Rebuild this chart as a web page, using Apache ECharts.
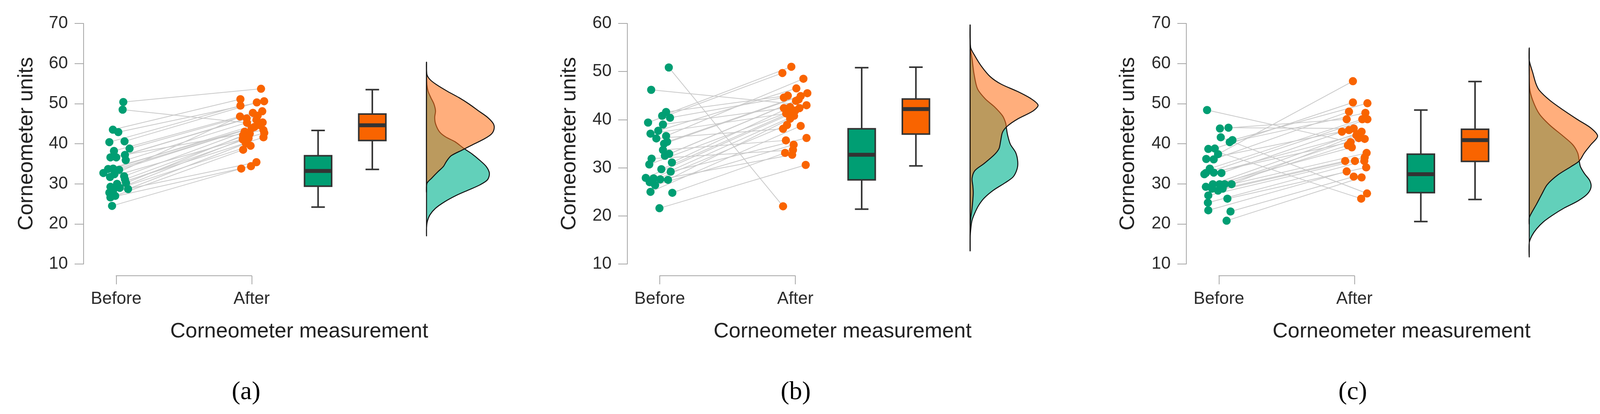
<!DOCTYPE html>
<html>
<head>
<meta charset="utf-8">
<script src="https://cdn.jsdelivr.net/npm/echarts@6/dist/echarts.min.js"></script>
<style>
html,body{margin:0;padding:0;background:#fff;}
#chart{width:4116px;height:1060px;}
</style>
</head>
<body>
<div id="chart"></div>
<script>
// ---------- DATA ----------
const groups = ['Before', 'After'];
const panelLabels = ['(a)', '(b)', '(c)'];
const yTitle = 'Corneometer units';
const xTitle = 'Corneometer measurement';
const yMaxes = [70, 60, 70];

// Panel (a) – paired values (index k = same subject) and horizontal jitter
const aBeforeVal = [50.4,48.5,43.5,42.9,40.6,40.4,38.8,38.2,37.2,36.6,36.6,35.9,33.8,33.7,33.5,32.7,32.4,31.9,31.7,31.1,30.2,30.0,29.25,29.0,28.7,28.4,27.8,27.0,26.6,24.5];
const aBeforeJit = [0.053,0.048,-0.024,0.016,0.062,-0.050,0.099,-0.016,0.065,-0.042,0.001,0.071,-0.022,-0.059,0.022,-0.094,-0.013,0.059,-0.045,0.065,0.073,0.007,-0.042,0.027,0.088,-0.022,-0.050,-0.007,-0.042,-0.030];
const aAfterVal  = [53.7,45.2,51.1,50.6,50.3,49.5,48.1,47.7,47.0,43.4,46.3,46.0,45.3,44.6,44.2,43.9,46.8,43.0,42.7,42.5,42.1,41.6,41.4,41.1,40.1,39.5,35.4,38.5,34.4,33.8];
const aAfterJit  = [0.069,-0.034,-0.083,0.092,0.038,-0.083,0.078,0.009,0.044,0.087,-0.037,0.035,0.081,0.064,0.021,0.0,-0.086,-0.052,0.093,-0.014,-0.063,0.087,-0.023,-0.066,-0.043,-0.008,0.035,-0.063,-0.005,-0.077];

// Panel (b)
const bBeforeVal = [50.85,46.2,41.6,40.8,40.4,39.4,39.0,37.7,37.1,36.6,36.1,35.4,35.0,33.7,32.9,32.5,31.9,31.1,30.7,29.7,29.2,27.9,27.8,27.6,27.5,27.0,26.4,25.0,24.8,21.6];
const bBeforeJit = [0.067,-0.063,0.047,0.018,0.076,-0.086,0.024,-0.011,-0.068,0.047,-0.025,0.055,0.032,0.024,0.070,0.038,-0.060,0.090,-0.077,0.012,0.081,-0.103,-0.045,0.004,0.061,-0.074,-0.034,-0.068,0.093,-0.002];
const bAfterVal  = [22.0,43.0,45.0,51.0,44.6,49.7,42.4,46.5,41.3,48.5,38.1,45.5,44.9,35.7,44.2,43.9,33.7,42.6,42.4,41.9,36.2,41.3,40.8,32.7,40.2,38.9,34.8,38.7,33.1,30.6];
const bAfterJit  = [-0.090,0.083,-0.055,-0.029,-0.084,-0.095,-0.084,0.008,-0.067,0.060,-0.090,0.089,0.040,-0.069,0.025,0.005,-0.017,-0.038,0.031,0.0,0.083,-0.026,-0.009,-0.023,-0.038,-0.061,-0.012,0.040,-0.075,0.077];

// Panel (c)
const cBeforeVal = [48.4,44.0,43.8,41.6,40.9,40.4,38.8,38.7,37.4,36.2,36.1,33.8,32.8,32.7,32.7,32.4,29.9,29.9,29.9,29.9,29.25,28.8,28.8,28.3,27.1,26.3,25.3,23.4,23.1,20.8];
const cBeforeJit = [-0.087,0.071,0.008,0.014,0.100,0.080,-0.030,-0.078,-0.006,-0.093,-0.038,-0.067,-0.038,-0.096,0.019,-0.107,-0.044,0.005,0.043,0.094,-0.096,-0.050,0.028,-0.006,-0.078,0.063,-0.081,-0.078,0.086,0.057];
const cAfterVal  = [40.4,43.8,46.1,27.6,50.1,47.7,50.3,26.3,55.6,43.4,48.0,46.1,42.4,46.1,43.0,41.2,43.0,41.4,39.6,42.1,39.1,37.7,35.7,36.6,35.7,34.1,35.7,33.1,31.8,31.6];
const cAfterJit  = [-0.028,-0.005,-0.057,0.093,0.096,0.081,-0.011,0.050,-0.011,-0.040,-0.040,0.058,0.032,0.096,-0.092,0.076,0.053,0.032,-0.048,0.015,-0.019,0.090,-0.068,0.076,0.004,0.087,0.073,-0.057,-0.005,0.053];

// Box plots: [min whisker, Q1, median, Q3, max whisker]
const aBoxBefore = [24.2,29.4,33.2,37.0,43.3];
const aBoxAfter  = [33.6,40.8,44.6,47.4,53.5];
const bBoxBefore = [21.4,27.5,32.7,38.1,50.8];
const bBoxAfter  = [30.4,37.0,42.2,44.3,50.9];
const cBoxBefore = [20.6,27.8,32.4,37.4,48.4];
const cBoxAfter  = [26.1,35.6,40.9,43.6,55.5];

// Half-violin density profiles: [value, density height]
const aDensBefore = [[60.2,0],[57.0,0],[54.7,1],[53.1,4],[51.5,11],[49.9,19],[48.2,23],[46.6,21],[45.0,23],[43.0,33],[41.7,49],[40.5,73],[38.8,96],[37.5,116],[35.9,136],[34.3,153],[32.6,161],[31.0,156],[29.7,136],[28.4,106],[27.1,76],[25.5,46],[23.9,23],[22.3,9],[20.6,2],[19.0,0],[17.1,0]];
const aDensAfter  = [[60.2,0],[57.3,1],[56.0,9],[54.7,26],[53.1,53],[51.5,83],[49.9,109],[48.2,133],[46.6,156],[45.0,171],[43.7,173],[42.4,166],[41.1,146],[39.8,119],[38.5,93],[37.0,63],[35.6,51],[34.3,43],[33.0,29],[31.4,13],[30.1,1],[28.0,0]];
const bDensBefore = [[59.5,0],[54.8,1],[52.6,5],[49.5,10],[46.4,19],[44.3,39],[42.7,62],[40.8,83],[39.3,91],[38.2,93],[36.8,96],[34.9,103],[33.1,117],[31.2,122],[29.7,120],[28.1,110],[26.9,90],[25.3,59],[23.7,36],[22.2,22],[20.6,12],[19.1,5],[17.5,2],[15.4,0],[12.9,0]];
const bDensAfter  = [[59.5,0],[55.1,1],[53.3,12],[51.1,29],[48.9,52],[47.4,79],[45.8,123],[44.3,157],[43.0,174],[41.8,161],[40.2,123],[38.7,96],[37.4,83],[35.5,78],[34.0,74],[32.8,63],[30.9,36],[29.4,12],[27.8,5],[26.2,7],[24.7,8],[21.6,5],[19.1,1],[17.0,0],[12.9,0]];
const cDensBefore = [[63.6,0],[53.9,1],[50.8,9],[47.4,26],[44.6,53],[42.2,83],[39.8,111],[37.7,124],[35.7,128],[34.3,131],[32.6,141],[30.8,155],[29.1,158],[27.4,148],[25.7,124],[24.0,90],[22.2,60],[20.5,36],[18.8,19],[17.1,7],[15.3,0],[11.9,0]];
const cDensAfter  = [[63.6,0],[60.8,0],[57.7,9],[55.0,17],[53.3,26],[50.8,53],[48.4,87],[46.0,124],[43.9,158],[41.9,175],[39.8,158],[37.7,141],[35.7,128],[34.3,107],[32.2,73],[29.8,46],[27.4,32],[25.0,19],[22.6,5],[21.5,0],[20.0,0]];

// ---------- LAYOUT / STYLE ----------
const TEAL = '#009E73', ORANGE = '#F96400';
const UNIT = 347;             // px per x-unit (Before=1, After=2)
const XMIN = 0.76, XMAX = 3.76;
const BOX_X = [2.49, 2.89], DENS_X = 3.29;
const BOX_W = 0.2, CAP_W = 0.1, DENS_SCALE = 1 / UNIT;
const GRID_TOP = 60, GRID_H = 616, BRACKET_Y = 706;
const FONT = '"Liberation Sans", Arial, sans-serif';

const panels = [
  {left: 214,    bv: aBeforeVal, bj: aBeforeJit, av: aAfterVal, aj: aAfterJit, boxB: aBoxBefore, boxA: aBoxAfter, dB: aDensBefore, dA: aDensAfter, yTitleX: 68,   xTitleX: 766,  labX: 630},
  {left: 1605.6, bv: bBeforeVal, bj: bBeforeJit, av: bAfterVal, aj: bAfterJit, boxB: bBoxBefore, boxA: bBoxAfter, dB: bDensBefore, dA: bDensAfter, yTitleX: 1458, xTitleX: 2157, labX: 2037},
  {left: 3037,   bv: cBeforeVal, bj: cBeforeJit, av: cAfterVal, aj: cAfterJit, boxB: cBoxBefore, boxA: cBoxAfter, dB: cDensBefore, dA: cDensAfter, yTitleX: 2888, xTitleX: 3588, labX: 3463}
];

const grid = [], xAxis = [], yAxis = [], series = [], graphic = [];
const axisGrey = '#a6a6a6';

function boxRender(params, api) {
  const x = api.value(0);
  const mn = api.value(1), q1 = api.value(2), md = api.value(3), q3 = api.value(4), mx = api.value(5);
  const col = api.value(6) === 0 ? TEAL : ORANGE;
  const hw = BOX_W / 2, cw = CAP_W / 2;
  const p = (dx, v) => api.coord([x + dx, v]);
  const ln = (a, b, w) => ({type: 'line', shape: {x1: a[0], y1: a[1], x2: b[0], y2: b[1]}, style: {stroke: '#333', lineWidth: w, lineCap: 'butt'}});
  const tl = p(-hw, q3), br = p(hw, q1);
  return {type: 'group', children: [
    ln(p(0, mn), p(0, q1), 4),
    ln(p(0, q3), p(0, mx), 4),
    ln(p(-cw, mn), p(cw, mn), 4),
    ln(p(-cw, mx), p(cw, mx), 4),
    {type: 'rect', shape: {x: tl[0], y: tl[1], width: br[0] - tl[0], height: br[1] - tl[1]}, style: {fill: col, stroke: '#333', lineWidth: 4}},
    ln(p(-hw + 0.004, md), p(hw - 0.004, md), 10)
  ]};
}

function densRender(dens, fill) {
  return function (params, api) {
    if (params.dataIndex !== 0) return null;
    const pts = dens.map(d => api.coord([DENS_X + d[1] * DENS_SCALE, d[0]]));
    return {type: 'polygon', shape: {points: pts, smooth: 0.3},
      style: {fill: fill, stroke: '#111', lineWidth: 2.5}};
  };
}

panels.forEach((P, i) => {
  const gi = 2 * i, bi = 2 * i + 1;
  const yMax = yMaxes[i];
  grid.push({left: P.left, top: GRID_TOP, width: UNIT * (XMAX - XMIN), height: GRID_H, containLabel: false});
  const bx0 = P.left + (1 - XMIN) * UNIT;
  grid.push({left: bx0, top: BRACKET_Y - 100, width: UNIT, height: 100, containLabel: false});

  xAxis.push({type: 'value', gridIndex: gi, min: XMIN, max: XMAX, show: false});
  yAxis.push({type: 'value', gridIndex: gi, min: 10, max: yMax, interval: 10,
    axisLine: {show: true, lineStyle: {color: axisGrey, width: 2}},
    axisTick: {show: true, length: 23, lineStyle: {color: axisGrey, width: 2}},
    axisLabel: {fontSize: 44, margin: 40, color: '#2b2b2b', fontFamily: FONT},
    splitLine: {show: false}});

  xAxis.push({type: 'category', gridIndex: bi, data: groups, boundaryGap: false,
    axisLine: {show: true, lineStyle: {color: axisGrey, width: 2}},
    axisTick: {show: true, length: 22, inside: false, lineStyle: {color: axisGrey, width: 2}},
    axisLabel: {fontSize: 44, margin: 38, color: '#2b2b2b', fontFamily: FONT, interval: 0}});
  yAxis.push({type: 'value', gridIndex: bi, show: false, min: 0, max: 1});

  // connecting lines
  series.push({type: 'lines', coordinateSystem: 'cartesian2d', xAxisIndex: gi, yAxisIndex: gi, z: 1,
    silent: true,
    lineStyle: {color: '#c9c9c9', width: 2, opacity: 1},
    data: P.bv.map((v, k) => ({coords: [[1 + P.bj[k], v], [2 + P.aj[k], P.av[k]]]}))});
  // points
  series.push({type: 'scatter', xAxisIndex: gi, yAxisIndex: gi, z: 3, symbolSize: 21,
    itemStyle: {color: TEAL, opacity: 1}, data: P.bv.map((v, k) => [1 + P.bj[k], v])});
  series.push({type: 'scatter', xAxisIndex: gi, yAxisIndex: gi, z: 3, symbolSize: 21,
    itemStyle: {color: ORANGE, opacity: 1}, data: P.av.map((v, k) => [2 + P.aj[k], v])});
  // boxes
  series.push({type: 'custom', xAxisIndex: gi, yAxisIndex: gi, z: 4, renderItem: boxRender,
    data: [[BOX_X[0]].concat(P.boxB, [0]), [BOX_X[1]].concat(P.boxA, [1])]});
  // densities
  series.push({type: 'custom', xAxisIndex: gi, yAxisIndex: gi, z: 4, renderItem: densRender(P.dB, '#62D0BA'),
    data: P.dB.map(d => [DENS_X, d[0]])});
  series.push({type: 'custom', xAxisIndex: gi, yAxisIndex: gi, z: 5, renderItem: densRender(P.dA, 'rgba(255,113,25,0.57)'),
    data: P.dA.map(d => [DENS_X, d[0]])});

  // texts
  graphic.push({type: 'text', x: P.yTitleX, y: GRID_TOP + GRID_H / 2, rotation: Math.PI / 2,
    style: {text: yTitle, font: '54px ' + FONT, fill: '#222', align: 'center', verticalAlign: 'middle'}});
  graphic.push({type: 'text', x: P.xTitleX, y: 849,
    style: {text: xTitle, font: '54px ' + FONT, fill: '#222', align: 'center', verticalAlign: 'middle'}});
  graphic.push({type: 'text', x: P.labX, y: 1005,
    style: {text: panelLabels[i], font: '66px "Liberation Serif", "Times New Roman", serif', fill: '#000', align: 'center', verticalAlign: 'middle'}});
});

const chart = echarts.init(document.getElementById('chart'), null, {renderer: 'canvas'});
chart.setOption({backgroundColor: '#ffffff', animation: false, grid, xAxis, yAxis, series, graphic});
</script>
</body>
</html>
